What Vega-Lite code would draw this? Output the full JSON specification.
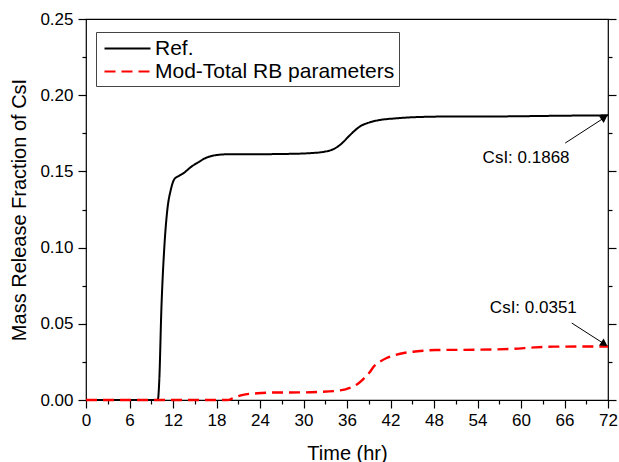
{
  "$schema": "https://vega.github.io/schema/vega-lite/v6.json",
  "width": 522,
  "height": 381,
  "autosize": {"type": "none"},
  "padding": {"left": 86, "top": 19, "right": 11, "bottom": 62},
  "background": "white",
  "config": {
    "font": "Liberation Sans",
    "view": {"stroke": "black", "strokeWidth": 1.2},
    "axis": {
      "grid": false,
      "domain": false,
      "tickColor": "black",
      "labelColor": "black",
      "titleColor": "black",
      "labelFont": "Liberation Sans",
      "titleFont": "Liberation Sans",
      "titleFontWeight": "normal",
      "labelFontSize": 17,
      "titleFontSize": 20,
      "tickWidth": 1.2
    },
    "legend": {
      "orient": "none",
      "legendX": 10,
      "legendY": 13,
      "padding": 4,
      "strokeColor": "#444",
      "fillColor": "white",
      "labelFont": "Liberation Sans",
      "labelFontSize": 21,
      "labelColor": "black",
      "labelLimit": 400,
      "labelOffset": 15,
      "symbolType": "M-2,0H2",
      "symbolSize": 529,
      "symbolOffset": 15,
      "symbolStrokeWidth": 2,
      "symbolFillColor": "transparent",
      "rowPadding": 0
    }
  },
  "datasets": {
    "ref": [
      {"x": 0, "y": 0, "s": "Ref."},
      {"x": 9.9, "y": 0, "s": "Ref."},
      {"x": 10.1, "y": 0.012, "s": "Ref."},
      {"x": 10.4, "y": 0.06, "s": "Ref."},
      {"x": 10.8, "y": 0.1, "s": "Ref."},
      {"x": 11.2, "y": 0.124, "s": "Ref."},
      {"x": 11.7, "y": 0.138, "s": "Ref."},
      {"x": 12.2, "y": 0.145, "s": "Ref."},
      {"x": 12.8, "y": 0.147, "s": "Ref."},
      {"x": 13.5, "y": 0.149, "s": "Ref."},
      {"x": 14.5, "y": 0.153, "s": "Ref."},
      {"x": 15.5, "y": 0.156, "s": "Ref."},
      {"x": 16.5, "y": 0.1588, "s": "Ref."},
      {"x": 17.5, "y": 0.1603, "s": "Ref."},
      {"x": 18.5, "y": 0.161, "s": "Ref."},
      {"x": 20, "y": 0.1613, "s": "Ref."},
      {"x": 24, "y": 0.1613, "s": "Ref."},
      {"x": 28, "y": 0.1615, "s": "Ref."},
      {"x": 31, "y": 0.162, "s": "Ref."},
      {"x": 33, "y": 0.163, "s": "Ref."},
      {"x": 34.3, "y": 0.165, "s": "Ref."},
      {"x": 35.2, "y": 0.168, "s": "Ref."},
      {"x": 36.2, "y": 0.1728, "s": "Ref."},
      {"x": 37, "y": 0.1765, "s": "Ref."},
      {"x": 37.8, "y": 0.1795, "s": "Ref."},
      {"x": 39, "y": 0.182, "s": "Ref."},
      {"x": 40.5, "y": 0.1837, "s": "Ref."},
      {"x": 42.7, "y": 0.1848, "s": "Ref."},
      {"x": 45.4, "y": 0.1856, "s": "Ref."},
      {"x": 50, "y": 0.186, "s": "Ref."},
      {"x": 55, "y": 0.186, "s": "Ref."},
      {"x": 60, "y": 0.1862, "s": "Ref."},
      {"x": 65, "y": 0.1865, "s": "Ref."},
      {"x": 72, "y": 0.1868, "s": "Ref."}
    ],
    "mod": [
      {"x": 0, "y": 0, "s": "Mod-Total RB parameters"},
      {"x": 19.5, "y": 0, "s": "Mod-Total RB parameters"},
      {"x": 20.2, "y": 0.001, "s": "Mod-Total RB parameters"},
      {"x": 21, "y": 0.0025, "s": "Mod-Total RB parameters"},
      {"x": 22, "y": 0.0037, "s": "Mod-Total RB parameters"},
      {"x": 23.6, "y": 0.0044, "s": "Mod-Total RB parameters"},
      {"x": 26, "y": 0.0049, "s": "Mod-Total RB parameters"},
      {"x": 30, "y": 0.005, "s": "Mod-Total RB parameters"},
      {"x": 32, "y": 0.0053, "s": "Mod-Total RB parameters"},
      {"x": 34.5, "y": 0.006, "s": "Mod-Total RB parameters"},
      {"x": 35.8, "y": 0.007, "s": "Mod-Total RB parameters"},
      {"x": 36.7, "y": 0.0085, "s": "Mod-Total RB parameters"},
      {"x": 37.6, "y": 0.011, "s": "Mod-Total RB parameters"},
      {"x": 38.4, "y": 0.0145, "s": "Mod-Total RB parameters"},
      {"x": 39.1, "y": 0.018, "s": "Mod-Total RB parameters"},
      {"x": 39.7, "y": 0.022, "s": "Mod-Total RB parameters"},
      {"x": 40.5, "y": 0.025, "s": "Mod-Total RB parameters"},
      {"x": 41.4, "y": 0.0274, "s": "Mod-Total RB parameters"},
      {"x": 42.7, "y": 0.0296, "s": "Mod-Total RB parameters"},
      {"x": 44, "y": 0.031, "s": "Mod-Total RB parameters"},
      {"x": 45.4, "y": 0.0318, "s": "Mod-Total RB parameters"},
      {"x": 48.2, "y": 0.0328, "s": "Mod-Total RB parameters"},
      {"x": 54, "y": 0.033, "s": "Mod-Total RB parameters"},
      {"x": 59, "y": 0.0336, "s": "Mod-Total RB parameters"},
      {"x": 61.8, "y": 0.0345, "s": "Mod-Total RB parameters"},
      {"x": 64.5, "y": 0.035, "s": "Mod-Total RB parameters"},
      {"x": 72, "y": 0.0351, "s": "Mod-Total RB parameters"}
    ],
    "arrows": [
      {"g": 1, "x": 66.1, "y": 0.1686},
      {"g": 1, "x": 71.55, "y": 0.1854},
      {"g": 2, "x": 67.0, "y": 0.0505},
      {"g": 2, "x": 71.55, "y": 0.0366}
    ],
    "heads": [
      {"x": 71.5, "y": 0.1853, "a": 56},
      {"x": 71.5, "y": 0.0367, "a": 123}
    ],
    "labels": [
      {"x": 60.7, "y": 0.1555, "t": "CsI: 0.1868"},
      {"x": 61.7, "y": 0.0573, "t": "CsI: 0.0351"}
    ]
  },
  "encoding": {
    "x": {
      "field": "x",
      "type": "quantitative",
      "scale": {"domain": [0, 72], "nice": false, "zero": false},
      "axis": {
        "title": "Time (hr)",
        "values": [0, 3, 6, 9, 12, 15, 18, 21, 24, 27, 30, 33, 36, 39, 42, 45, 48, 51, 54, 57, 60, 63, 66, 69, 72],
        "labelExpr": "datum.value % 6 === 0 ? datum.label : ''",
        "tickSize": {"condition": {"test": "datum.value % 6 === 0", "value": 8}, "value": 4},
        "labelPadding": 4,
        "labelFlush": false,
        "labelOverlap": false,
        "titlePadding": 15
      }
    },
    "y": {
      "field": "y",
      "type": "quantitative",
      "scale": {"domain": [0, 0.25], "nice": false},
      "axis": null
    }
  },
  "layer": [
    {
      "data": {"name": "ref"},
      "mark": {"type": "line", "interpolate": "monotone", "strokeWidth": 2},
      "encoding": {
        "y": {
          "field": "y",
          "type": "quantitative",
          "scale": {"domain": [0, 0.25], "nice": false},
          "axis": {
            "title": "Mass Release Fraction of CsI",
            "orient": "left",
            "values": [0, 0.025, 0.05, 0.075, 0.1, 0.125, 0.15, 0.175, 0.2, 0.225, 0.25],
            "format": ".2f",
            "labelExpr": "round(datum.value * 1000) % 50 === 0 ? datum.label : ''",
            "tickSize": {"condition": {"test": "round(datum.value * 1000) % 50 === 0", "value": 8}, "value": 4},
            "labelPadding": 5,
            "labelFlush": false,
            "labelOverlap": false,
            "titlePadding": 10
          }
        },
        "color": {
          "field": "s",
          "type": "nominal",
          "scale": {"domain": ["Ref.", "Mod-Total RB parameters"], "range": ["black", "red"]},
          "legend": {"title": null}
        },
        "strokeDash": {
          "field": "s",
          "type": "nominal",
          "scale": {"domain": ["Ref.", "Mod-Total RB parameters"], "range": [[1, 0], [11, 6]]},
          "legend": {"title": null}
        }
      }
    },
    {
      "data": {"name": "mod"},
      "mark": {"type": "line", "interpolate": "monotone", "strokeWidth": 2.4},
      "encoding": {
        "color": {
          "field": "s",
          "type": "nominal",
          "scale": {"domain": ["Ref.", "Mod-Total RB parameters"], "range": ["black", "red"]},
          "legend": {"title": null}
        },
        "strokeDash": {
          "field": "s",
          "type": "nominal",
          "scale": {"domain": ["Ref.", "Mod-Total RB parameters"], "range": [[1, 0], [11, 6]]},
          "legend": {"title": null}
        }
      }
    },
    {
      "data": {"name": "arrows"},
      "mark": {"type": "line", "color": "black", "strokeWidth": 1},
      "encoding": {
        "y": {
          "field": "y",
          "type": "quantitative",
          "scale": {"domain": [0, 0.25], "nice": false},
          "axis": {
            "title": null,
            "orient": "right",
            "values": [0, 0.025, 0.05, 0.075, 0.1, 0.125, 0.15, 0.175, 0.2, 0.225, 0.25],
            "labels": false,
            "tickSize": {"condition": {"test": "round(datum.value * 1000) % 50 === 0", "value": 8}, "value": 4}
          }
        },
        "detail": {"field": "g", "type": "nominal"}
      }
    },
    {
      "data": {"name": "heads"},
      "mark": {"type": "point", "shape": "triangle-up", "filled": true, "color": "black", "size": 70, "opacity": 1},
      "encoding": {
        "angle": {"field": "a", "type": "quantitative", "scale": null}
      }
    },
    {
      "data": {"name": "labels"},
      "mark": {"type": "text", "font": "Liberation Sans", "fontSize": 17, "align": "center", "baseline": "alphabetic", "color": "black"},
      "encoding": {
        "text": {"field": "t", "type": "nominal"}
      }
    }
  ],
  "resolve": {"axis": {"y": "independent"}}
}
